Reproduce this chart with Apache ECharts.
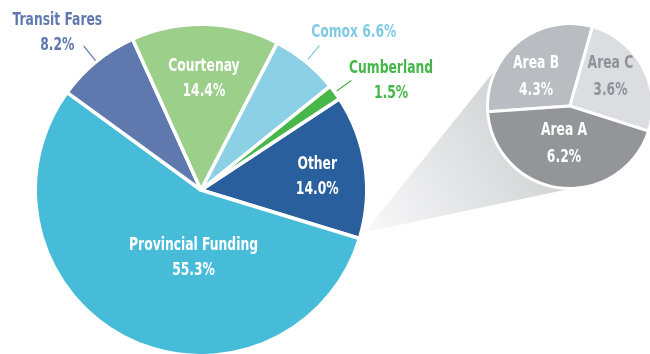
<!DOCTYPE html>
<html>
<head>
<meta charset="utf-8">
<script src="https://cdn.jsdelivr.net/npm/echarts@6/dist/echarts.min.js"></script>
<style>
  html, body { margin: 0; padding: 0; background: #ffffff; }
  #chart { width: 650px; height: 354px; }
</style>
</head>
<body>
<div id="chart"></div>
<script>
// Revenue sources, percent of total
const sourceNames = ['Other', 'Provincial Funding', 'Transit Fares', 'Courtenay', 'Comox', 'Cumberland'];
const sourceShares = [14.0, 55.3, 8.2, 14.4, 6.6, 1.5];

// Breakdown of "Other", percent of total
const otherNames = ['Area B', 'Area C', 'Area A'];
const otherShares = [4.3, 3.6, 6.2];

// ---- typography: a condensed bold face, narrowed a little further ----
function pickFont(candidates) {
  const ctx = document.createElement('canvas').getContext('2d');
  const probe = 'Provincial Funding 0123456789%';
  for (const f of candidates) {
    for (const base of ['monospace', 'serif']) {
      ctx.font = 'bold 40px ' + base;
      const w0 = ctx.measureText(probe).width;
      ctx.font = "bold 40px '" + f + "', " + base;
      const w1 = ctx.measureText(probe).width;
      if (Math.abs(w1 - w0) > 0.5) return f;
    }
  }
  return 'sans-serif';
}
const FACE = pickFont(['Liberation Sans Narrow', 'Noto Sans ExtraCondensed', 'Noto Sans Condensed',
  'DejaVu Sans Condensed', 'Noto Sans SemiCondensed', 'Liberation Sans']);
const FONT = "'" + FACE + "', sans-serif";
const FONT_SIZE = 18.5;
// horizontal squeeze so "Provincial Funding" spans about 129px
const TEXT_SCALE_X = (function () {
  const ctx = document.createElement('canvas').getContext('2d');
  ctx.font = 'bold ' + FONT_SIZE + 'px ' + FONT;
  const w = ctx.measureText('Provincial Funding').width;
  return Math.min(1, 129 / w);
})();

// ---- layout & colours ----
const MAIN = { cx: 201, cy: 190, r: 164 };
const SUB = { cx: 570, cy: 106, r: 81 };
const MAIN_START = 33.4;   // degrees, where "Other" begins
const SUB_START = 184;

const sourceColors = ['#2a5f9d', '#47bcd8', '#5f79ae', '#9bcf8a', '#8bd0e4', '#48b74a'];
const sourceTextColors = ['#ffffff', '#ffffff', '#5f79ae', '#ffffff', '#80cbe3', '#45b649'];
const sourceOneLine = [false, false, false, false, true, false];
// label anchors as [angle in degrees, distance from centre]
const sourceLabelAt = [[6.6, 117], [-96.3, 68], [132.4, 213], [88.5, 111.5], [46, 220], [29.8, 219]];
// leader line radii [from, to] along the slice mid-angle
const sourceLeader = [null, null, [167, 186], null, [169, 187], [168, 186]];

const otherColors = ['#b9bcc0', '#dcdde0', '#939599'];
const otherTextColors = ['#ffffff', '#8f9296', '#ffffff'];
const otherLabelAt = [[139, 45], [36, 50], [-99, 38.5]];

function polar(c, r, deg) {
  const a = deg * Math.PI / 180;
  return [c.cx + r * Math.cos(a), c.cy - r * Math.sin(a)];
}

// slice mid-angles (clockwise from the start angle)
function midAngles(values, start) {
  const sum = values.reduce((a, b) => a + b, 0);
  let s = start;
  return values.map(v => {
    const span = v / sum * 360;
    const mid = s - span / 2;
    s -= span;
    return mid;
  });
}
const sourceMid = midAngles(sourceShares, MAIN_START);
const sourceSum = sourceShares.reduce((a, b) => a + b, 0);
const otherEnd = MAIN_START - sourceShares[0] / sourceSum * 360;

// zoom wedge from the "Other" slice to the breakdown pie
const P = polar(MAIN, MAIN.r + 5, otherEnd + 2.5);
const dx = SUB.cx - P[0], dy = SUB.cy - P[1];
const d = Math.hypot(dx, dy);
const theta = Math.atan2(dy, dx);
const alpha = Math.asin(SUB.r / d);
const L = Math.sqrt(d * d - SUB.r * SUB.r);
const T1 = [P[0] + L * Math.cos(theta - alpha), P[1] + L * Math.sin(theta - alpha)];
const T2 = [P[0] + L * Math.cos(theta + alpha), P[1] + L * Math.sin(theta + alpha)];

const pct = v => v.toFixed(1) + '%';

function labelText(x, y, text, color, lineHeight) {
  return {
    type: 'text', z: 10, silent: true, x: x, y: y,
    scaleX: TEXT_SCALE_X, scaleY: 1,
    style: {
      text: text, fill: color, fontFamily: FONT, fontWeight: 'bold',
      fontSize: FONT_SIZE, lineHeight: lineHeight, align: 'center', verticalAlign: 'middle'
    }
  };
}

const graphics = [{
  type: 'polygon',
  z: 0,
  silent: true,
  shape: { points: [P, T1, [SUB.cx, SUB.cy], T2] },
  style: {
    fill: new echarts.graphic.LinearGradient(P[0], P[1], SUB.cx, SUB.cy, [
      { offset: 0, color: '#f9f9fa' },
      { offset: 1, color: '#c9cacc' }
    ], true)
  }
}];

// slice labels and leader lines for the main pie
sourceNames.forEach((n, i) => {
  const at = polar(MAIN, sourceLabelAt[i][1], sourceLabelAt[i][0]);
  const v = sourceShares[i];
  const txt = sourceOneLine[i] ? n + ' ' + pct(v) : n + '\n' + pct(v);
  graphics.push(labelText(at[0], at[1], txt, sourceTextColors[i], 25));
  if (sourceLeader[i]) {
    const a = polar(MAIN, sourceLeader[i][0], sourceMid[i]);
    const b = polar(MAIN, sourceLeader[i][1], sourceMid[i]);
    graphics.push({
      type: 'line', z: 10, silent: true,
      shape: { x1: a[0], y1: a[1], x2: b[0], y2: b[1] },
      style: { stroke: sourceTextColors[i], lineWidth: 1.2 }
    });
  }
});

// slice labels for the breakdown pie
otherNames.forEach((n, i) => {
  const at = polar(SUB, otherLabelAt[i][1], otherLabelAt[i][0]);
  graphics.push(labelText(at[0], at[1], n + '\n' + pct(otherShares[i]), otherTextColors[i], 27));
});

const chart = echarts.init(document.getElementById('chart'), null, { renderer: 'canvas' });
chart.setOption({
  animation: false,
  backgroundColor: '#ffffff',
  graphic: graphics,
  series: [
    {
      type: 'pie',
      z: 2,
      silent: true,
      center: [MAIN.cx, MAIN.cy],
      radius: MAIN.r + 1.75,
      startAngle: MAIN_START,
      clockwise: true,
      avoidLabelOverlap: false,
      itemStyle: { borderColor: '#ffffff', borderWidth: 3.5 },
      label: { show: false },
      labelLine: { show: false },
      data: sourceNames.map((n, i) => ({
        name: n,
        value: sourceShares[i],
        itemStyle: { color: sourceColors[i] }
      }))
    },
    {
      type: 'pie',
      z: 3,
      silent: true,
      center: [SUB.cx, SUB.cy],
      radius: SUB.r + 1.5,
      startAngle: SUB_START,
      clockwise: true,
      avoidLabelOverlap: false,
      itemStyle: { borderColor: '#ffffff', borderWidth: 3 },
      label: { show: false },
      labelLine: { show: false },
      data: otherNames.map((n, i) => ({
        name: n,
        value: otherShares[i],
        itemStyle: { color: otherColors[i] }
      }))
    }
  ]
});
</script>
</body>
</html>
